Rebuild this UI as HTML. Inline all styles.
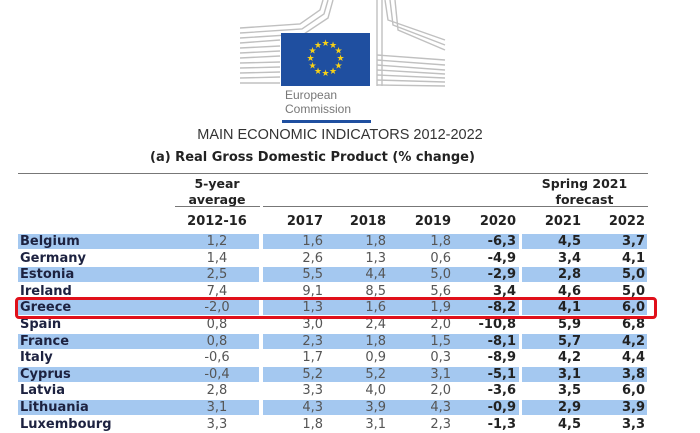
<!DOCTYPE html>
<html><head><meta charset="utf-8"><style>
body{margin:0;width:700px;height:432px;background:#fff;position:relative;overflow:hidden;font-family:"DejaVu Sans","Liberation Sans",sans-serif;}
.a{position:absolute}
.r{position:absolute;left:0;width:700px;height:16.6px;font-size:13px;line-height:17px}
.r span{position:absolute;top:0}
.bg{background:#a4c8f0;top:1px!important;height:15px}
.n{left:20px;font-weight:bold;color:#1d2240}
.c0{left:175px;width:84px;text-align:center;color:#555}
.c1{left:263px;width:60px;text-align:right;color:#555}
.c2{left:323px;width:63px;text-align:right;color:#555}
.c3{left:386px;width:65px;text-align:right;color:#555}
.c4{left:451px;width:65px;text-align:right;font-weight:bold;color:#222}
.c5{left:522px;width:59px;text-align:right;font-weight:bold;color:#222}
.c6{left:581px;width:64px;text-align:right;font-weight:bold;color:#222}
.h{position:absolute;font-size:12.5px;font-weight:bold;color:#222;line-height:16px}
.line{position:absolute;height:1px;background:#777}
</style></head><body>
<svg class="a" style="left:240px;top:0" width="240" height="90">
<g stroke="#c0c0c0" stroke-width="1.4" fill="none">
<path d="M0,28 L60,24 L80,10 L83,0"/><path d="M0,33 L62,29 L84,14 L88,0"/><path d="M0,38 L64,34 L88,18 L93,0"/>
<path d="M0,43 L40,40"/><path d="M0,48 L40,46"/><path d="M0,53 L40,51"/><path d="M0,58 L40,56"/><path d="M0,63 L40,62"/><path d="M0,68 L40,67"/><path d="M0,73 L40,72"/><path d="M0,78 L40,77"/><path d="M0,83 L40,83"/>
<path d="M145,0 L148,20 L205,40"/><path d="M150,0 L153,25 L205,45"/><path d="M155,0 L158,30 L205,50"/>
<path d="M137,55 L205,60"/><path d="M137,60 L205,65"/><path d="M137,65 L205,70"/><path d="M137,70 L205,74"/><path d="M137,75 L205,78"/><path d="M137,80 L205,82"/><path d="M137,85 L205,86"/>
<path d="M137,0 L137,86"/><path d="M142,0 L142,86"/>
</g></svg>
<div class="a" style="left:281px;top:33px;width:89px;height:53px;background:#1f4fa0"></div>
<svg class="a" style="left:281px;top:33px" width="89" height="53"><g fill="#f7d117" font-size="9" text-anchor="middle" font-family="DejaVu Sans">
<text x="44.5" y="13">★</text><text x="52" y="15">★</text><text x="57.5" y="20.5">★</text><text x="59.5" y="28">★</text><text x="57.5" y="35.5">★</text><text x="52" y="41">★</text><text x="44.5" y="43">★</text><text x="37" y="41">★</text><text x="31.5" y="35.5">★</text><text x="29.5" y="28">★</text><text x="31.5" y="20.5">★</text><text x="37" y="15">★</text>
</g></svg>
<div class="a" style="left:285px;top:88px;font-size:12px;color:#777;line-height:14px;font-family:'Liberation Sans',sans-serif">European<br>Commission</div>
<div class="a" style="left:282px;top:120px;width:89px;height:3px;background:#1f4fa0"></div>
<div class="a" style="left:0;width:680px;top:127px;text-align:center;font-size:14.5px;color:#333;font-family:'Liberation Sans',sans-serif">MAIN ECONOMIC INDICATORS 2012-2022</div>
<div class="a" style="left:150px;top:150px;font-size:13px;font-weight:bold;color:#222">(a) Real Gross Domestic Product (% change)</div>
<div class="line" style="left:18px;top:173px;width:630px"></div>
<div class="h" style="left:175px;width:84px;top:176px;text-align:center">5-year<br>average</div>
<div class="h" style="left:522px;width:125px;top:176px;text-align:center">Spring 2021<br>forecast</div>
<div class="line" style="left:175px;top:206px;width:85px"></div>
<div class="line" style="left:263px;top:206px;width:385px"></div>
<div class="r" style="top:213px;font-weight:bold"><span class="c0" style="color:#222">2012-16</span><span class="c1" style="color:#222">2017</span><span class="c2" style="color:#222">2018</span><span class="c3" style="color:#222">2019</span><span class="c4">2020</span><span class="c5">2021</span><span class="c6">2022</span></div>

<div class="r" style="top:233px"><span class="bg" style="left:18px;width:241px"></span><span class="bg" style="left:263px;width:256px"></span><span class="bg" style="left:522px;width:125px"></span><span class="n">Belgium</span><span class="c0">1,2</span><span class="c1">1,6</span><span class="c2">1,8</span><span class="c3">1,8</span><span class="c4">-6,3</span><span class="c5">4,5</span><span class="c6">3,7</span></div>
<div class="r" style="top:249.6px"><span class="n">Germany</span><span class="c0">1,4</span><span class="c1">2,6</span><span class="c2">1,3</span><span class="c3">0,6</span><span class="c4">-4,9</span><span class="c5">3,4</span><span class="c6">4,1</span></div>
<div class="r" style="top:266.2px"><span class="bg" style="left:18px;width:241px"></span><span class="bg" style="left:263px;width:256px"></span><span class="bg" style="left:522px;width:125px"></span><span class="n">Estonia</span><span class="c0">2,5</span><span class="c1">5,5</span><span class="c2">4,4</span><span class="c3">5,0</span><span class="c4">-2,9</span><span class="c5">2,8</span><span class="c6">5,0</span></div>
<div class="r" style="top:282.8px"><span class="n">Ireland</span><span class="c0">7,4</span><span class="c1">9,1</span><span class="c2">8,5</span><span class="c3">5,6</span><span class="c4">3,4</span><span class="c5">4,6</span><span class="c6">5,0</span></div>
<div class="r" style="top:299.4px"><span class="bg" style="left:18px;width:241px"></span><span class="bg" style="left:263px;width:256px"></span><span class="bg" style="left:522px;width:125px"></span><span class="n">Greece</span><span class="c0">-2,0</span><span class="c1">1,3</span><span class="c2">1,6</span><span class="c3">1,9</span><span class="c4">-8,2</span><span class="c5">4,1</span><span class="c6">6,0</span></div>
<div class="r" style="top:316px"><span class="n">Spain</span><span class="c0">0,8</span><span class="c1">3,0</span><span class="c2">2,4</span><span class="c3">2,0</span><span class="c4">-10,8</span><span class="c5">5,9</span><span class="c6">6,8</span></div>
<div class="r" style="top:332.6px"><span class="bg" style="left:18px;width:241px"></span><span class="bg" style="left:263px;width:256px"></span><span class="bg" style="left:522px;width:125px"></span><span class="n">France</span><span class="c0">0,8</span><span class="c1">2,3</span><span class="c2">1,8</span><span class="c3">1,5</span><span class="c4">-8,1</span><span class="c5">5,7</span><span class="c6">4,2</span></div>
<div class="r" style="top:349.2px"><span class="n">Italy</span><span class="c0">-0,6</span><span class="c1">1,7</span><span class="c2">0,9</span><span class="c3">0,3</span><span class="c4">-8,9</span><span class="c5">4,2</span><span class="c6">4,4</span></div>
<div class="r" style="top:365.8px"><span class="bg" style="left:18px;width:241px"></span><span class="bg" style="left:263px;width:256px"></span><span class="bg" style="left:522px;width:125px"></span><span class="n">Cyprus</span><span class="c0">-0,4</span><span class="c1">5,2</span><span class="c2">5,2</span><span class="c3">3,1</span><span class="c4">-5,1</span><span class="c5">3,1</span><span class="c6">3,8</span></div>
<div class="r" style="top:382.4px"><span class="n">Latvia</span><span class="c0">2,8</span><span class="c1">3,3</span><span class="c2">4,0</span><span class="c3">2,0</span><span class="c4">-3,6</span><span class="c5">3,5</span><span class="c6">6,0</span></div>
<div class="r" style="top:399px"><span class="bg" style="left:18px;width:241px"></span><span class="bg" style="left:263px;width:256px"></span><span class="bg" style="left:522px;width:125px"></span><span class="n">Lithuania</span><span class="c0">3,1</span><span class="c1">4,3</span><span class="c2">3,9</span><span class="c3">4,3</span><span class="c4">-0,9</span><span class="c5">2,9</span><span class="c6">3,9</span></div>
<div class="r" style="top:415.6px"><span class="n">Luxembourg</span><span class="c0">3,3</span><span class="c1">1,8</span><span class="c2">3,1</span><span class="c3">2,3</span><span class="c4">-1,3</span><span class="c5">4,5</span><span class="c6">3,3</span></div>

<div class="a" style="left:15px;top:297px;width:636px;height:16px;border:3px solid #e0101a;border-radius:4px"></div>
</body></html>
